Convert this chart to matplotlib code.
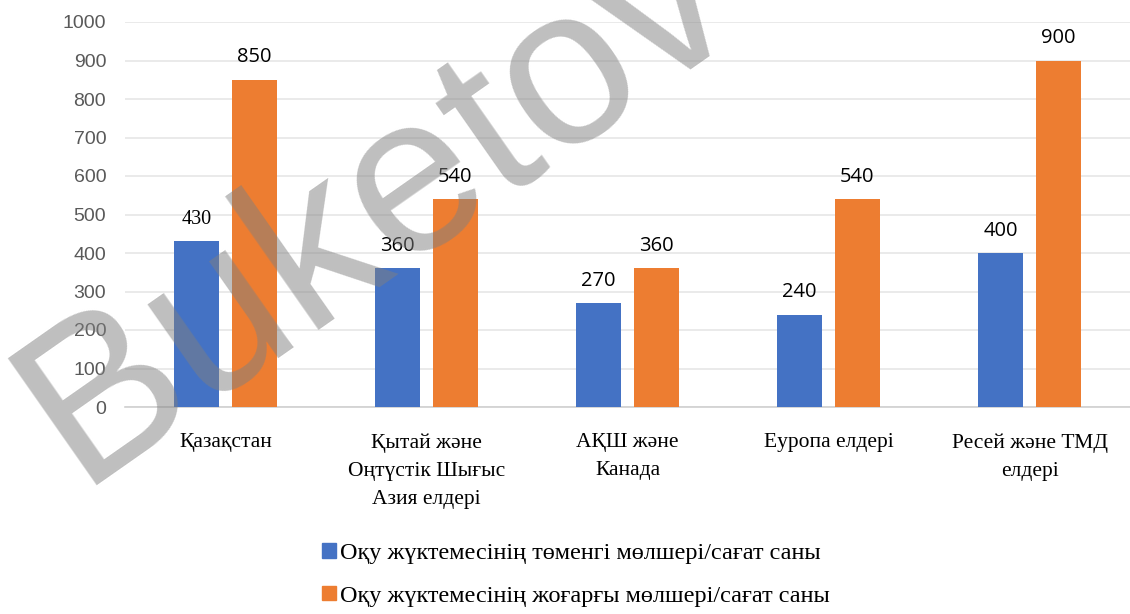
import matplotlib
matplotlib.use("Agg")
import matplotlib.pyplot as plt
import numpy as np
from matplotlib.patches import Patch

categories = ["Қазақстан", "Қытай және\nОңтүстік Шығыс\nАзия елдері", "АҚШ және\nКанада",
              "Еуропа елдері", "Ресей және ТМД\nелдері"]
low = [430, 360, 270, 240, 400]
high = [850, 540, 360, 540, 900]
series_names = ["Оқу жүктемесінің төменгі мөлшері/сағат саны",
                "Оқу жүктемесінің жоғарғы мөлшері/сағат саны"]
yticks = [0, 100, 200, 300, 400, 500, 600, 700, 800, 900, 1000]

blue = "#4472C4"
orange = "#ED7D31"

fig = plt.figure(figsize=(11.3, 6.14), dpi=100)
ax = fig.add_axes([125/1130, 1-407/614, (1130-125)/1130, (407-22)/614])

x = np.arange(len(categories))
w = 0.224
off = 0.144
b1 = ax.bar(x - off, low, w, color=blue, zorder=3)
b2 = ax.bar(x + off, high, w, color=orange, zorder=3)

ax.set_xlim(-0.5, len(categories) - 0.5)
ax.set_ylim(0, 1000)
ax.set_yticks(yticks)
ax.set_yticklabels([str(v) for v in yticks], fontfamily="Liberation Sans", fontsize=14, color="#595959")
ax.tick_params(axis="y", length=0, pad=13.5)
ax.tick_params(axis="x", length=0, pad=19)
ax.set_xticks(x)
ax.set_xticklabels(categories, fontfamily="Liberation Serif", fontsize=15.5, linespacing=1.65)
ax.grid(axis="y", color="#e6e6e6", linewidth=1.2, zorder=0)
for s in ["top", "right", "left"]:
    ax.spines[s].set_visible(False)
ax.spines["bottom"].set_color("#d0d0d0")
ax.spines["bottom"].set_linewidth(1.2)

for i, (r, v) in enumerate(zip(b1, low)):
    fam = "Liberation Serif" if i == 0 else "Open Sans"
    ax.annotate(str(v), (r.get_x() + r.get_width()/2, v), xytext=(0, 9), textcoords="offset points",
                ha="center", va="bottom", fontsize=14.5, fontfamily=fam, color="black")
for r, v in zip(b2, high):
    ax.annotate(str(v), (r.get_x() + r.get_width()/2, v), xytext=(0, 9), textcoords="offset points",
                ha="center", va="bottom", fontsize=14.5, fontfamily="Open Sans", color="black")

handles = [Patch(color=blue), Patch(color=orange)]
leg = fig.legend(handles, series_names, loc="center", bbox_to_anchor=(576/1130, 1-575/614),
                 ncol=1, frameon=False, prop={"family": "Liberation Serif", "size": 17.5},
                 handlelength=0.55, handleheight=0.55, handletextpad=0.17, labelspacing=0.88)

fig.text(378/1130, 1-205/614, "Buketov", rotation=35, fontsize=162, fontfamily="Liberation Sans",
         color="#808080", alpha=0.5, ha="center", va="center", zorder=10, rotation_mode="anchor")

fig.savefig("out.png", dpi=100)
